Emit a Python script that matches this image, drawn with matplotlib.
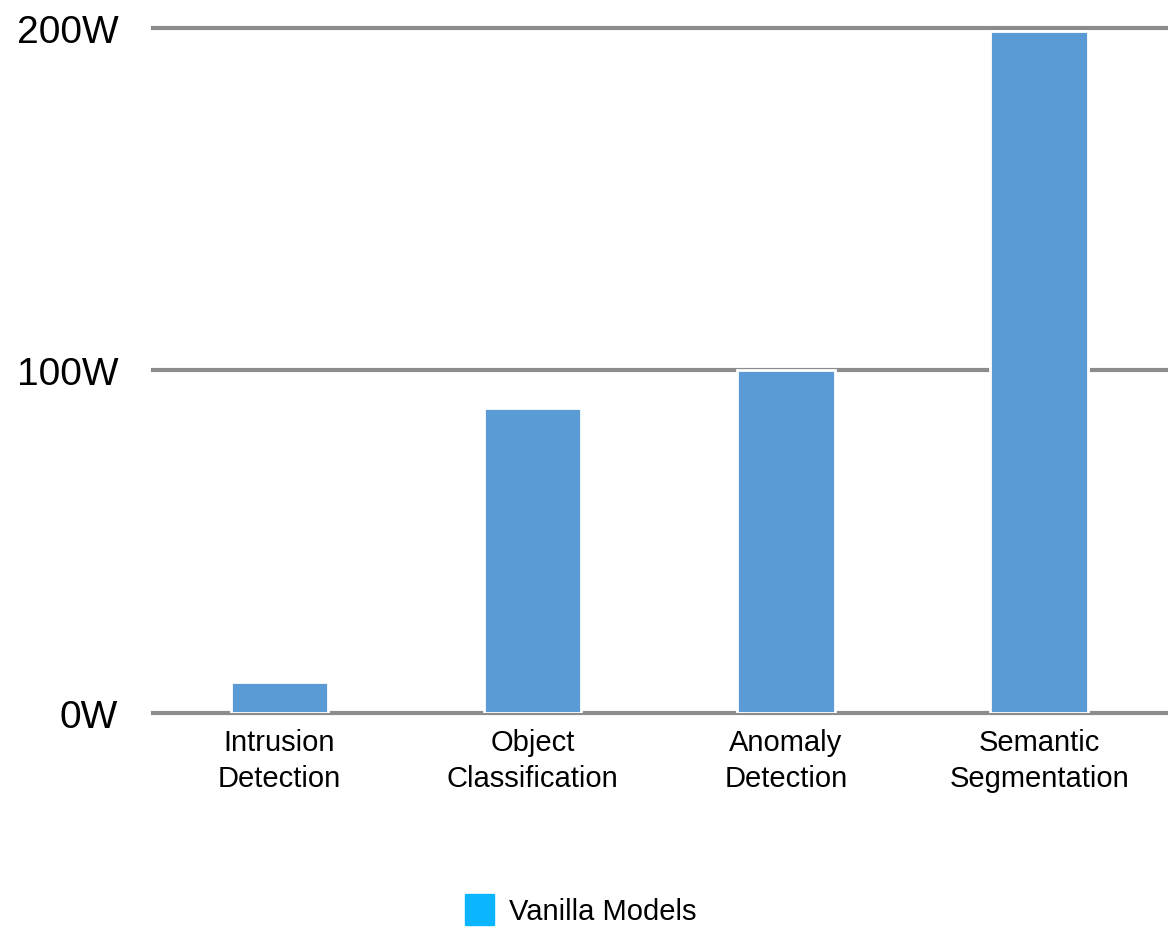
import matplotlib
matplotlib.use('Agg')
import matplotlib.pyplot as plt
from matplotlib.patches import Patch
from matplotlib import font_manager

# data
tasks = ['Intrusion\nDetection', 'Object\nClassification', 'Anomaly\nDetection', 'Semantic\nSegmentation']
power_w = [9, 89, 100, 199]
y_ticks = [0, 100, 200]
y_labels = ['0W', '100W', '200W']

names = {f.name for f in font_manager.fontManager.ttflist}
fam = 'Liberation Sans Narrow' if 'Liberation Sans Narrow' in names else 'Liberation Sans'
plt.rcParams['font.family'] = [fam, 'DejaVu Sans']

fig = plt.figure(figsize=(11.68, 9.28), dpi=100)
ax = fig.add_axes([0.131, 0.2306, 0.867, 0.7382])

x = range(len(tasks))
ax.bar(x, power_w, width=0.385, color='#5b9bd5', edgecolor='white', linewidth=2, zorder=3)

ax.set_xlim(-0.5, 3.5)
ax.set_ylim(0, 200)
ax.set_yticks(y_ticks)
ax.set_yticklabels(y_labels, fontsize=28)
ax.set_xticks(list(x))
ax.set_xticklabels(tasks, fontsize=21, linespacing=1.35)
ax.tick_params(length=0)
ax.tick_params(axis='y', pad=25)
ax.tick_params(axis='x', pad=11)
ax.grid(axis='y', color='#8c8c8c', linewidth=3, zorder=1)
ax.set_axisbelow(True)
for s in ax.spines.values():
    s.set_visible(False)
for gl in ax.yaxis.get_gridlines():
    gl.set_clip_on(False)

fig.legend(handles=[Patch(color='#0bb5ff', label='Vanilla Models')], loc='center',
           bbox_to_anchor=(0.497, 0.019), frameon=False, fontsize=21,
           handlelength=1.0, handleheight=1.25, handletextpad=0.5)

fig.savefig('out.png', dpi=100)
